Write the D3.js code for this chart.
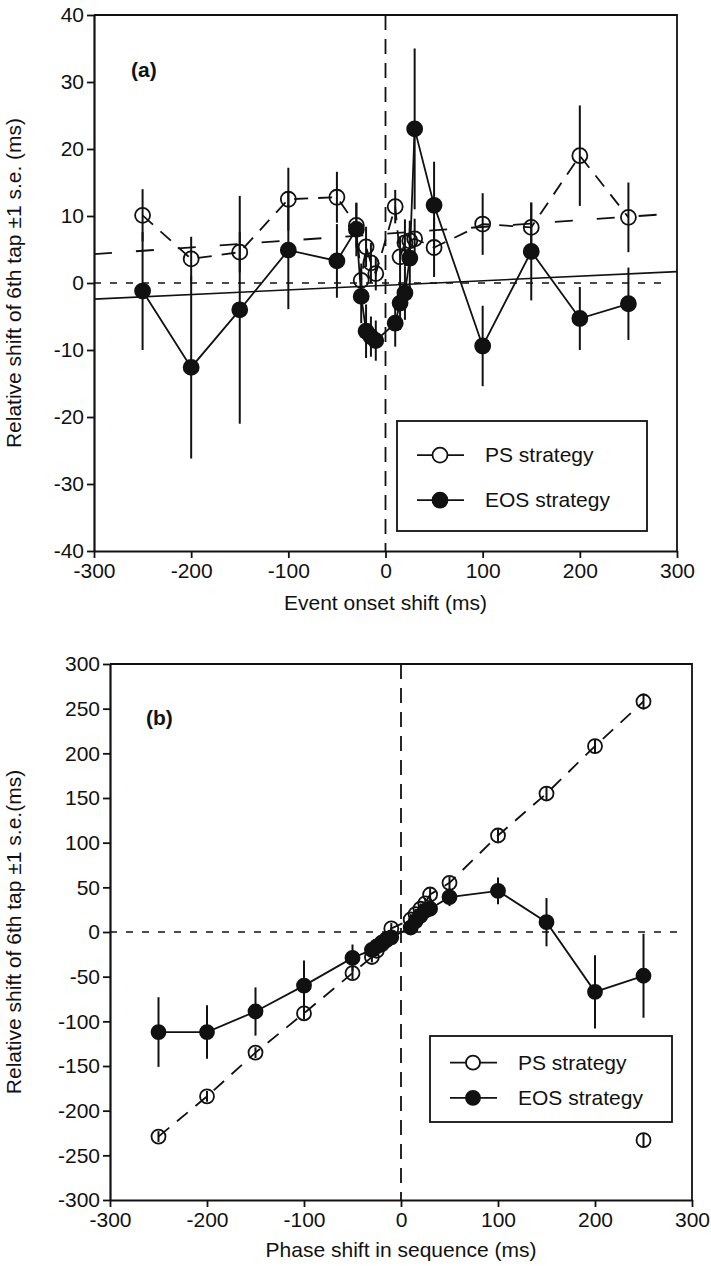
<!DOCTYPE html>
<html>
<head>
<meta charset="utf-8">
<script src="https://cdn.jsdelivr.net/npm/d3@7/dist/d3.min.js"></script>
<style>
  html, body { margin: 0; padding: 0; background: #fff; }
  svg text { font-family: "Liberation Sans", Arial, Helvetica, sans-serif; fill: #111; }
</style>
</head>
<body>
<svg id="chart" width="711" height="1266"></svg>
<script>
// Shift magnitudes (ms) shared by both panels
const shifts = [-250, -200, -150, -100, -50, -30, -25, -20, -15, -10, 10, 15, 20, 25, 30, 50, 100, 150, 200, 250];

// Panel (a): relative shift of the 6th tap vs event onset shift
const psA     = [10.1, 3.6, 4.6, 12.5, 12.8, 8.6, 0.4, 5.4, 3.0, 1.4, 11.4, 3.9, 6.0, 6.3, 6.6, 5.3, 8.8, 8.3, 19.0, 9.8];
const psAErr  = [3.9, 3.3, 3.0, 4.7, 3.8, 3.3, 2.5, 3.0, 3.0, 2.5, 2.5, 3.0, 3.5, 3.0, 3.0, 4.4, 4.6, 3.7, 7.5, 5.2];
const eosA    = [-1.2, -12.6, -4.0, 4.9, 3.3, 8.0, -2.0, -7.2, -8.0, -8.6, -6.0, -3.0, -1.5, 3.7, 23.0, 11.6, -9.4, 4.7, -5.3, -3.1];
const eosAErr = [8.8, 13.6, 17.0, 8.8, 5.5, 4.0, 4.0, 4.0, 3.0, 3.0, 3.5, 4.0, 4.0, 4.5, 12.0, 6.5, 6.0, 7.3, 4.7, 5.4];
// Reference lines in panel (a), given at the ends of the x range
const refX    = [-300, 300];
const psRefA  = [4.3, 10.4];
const eosRefA = [-2.4, 1.7];

// Panel (b): relative shift of the 6th tap vs phase shift in sequence
const psB     = [-229, -184, -135, -91, -46, -28, -21, -14, -8, 4, 14, 20, 26, 32, 42, 55, 108, 155, 208, 258];
const psBErr  = [6, 6, 6, 7, 7, 6, 6, 6, 6, 6, 6, 6, 6, 6, 7, 7, 7, 8, 8, 9];
const eosB    = [-112, -112, -89, -60, -29, -20, -16, -12, -9, -6, 5, 12, 18, 24, 26, 39, 46, 11, -67, -49];
const eosBErr = [39, 30, 27, 28, 15, 8, 8, 8, 8, 8, 8, 8, 8, 8, 8, 10, 15, 27, 41, 47];
// Isolated PS point at +250 ms plotted on the negative side
const psWrapX = [250];
const psWrapY = [-233];
const psWrapErr = [8];

const xTicks  = [-300, -200, -100, 0, 100, 200, 300];
const yTicksA = [-40, -30, -20, -10, 0, 10, 20, 30, 40];
const yTicksB = [-300, -250, -200, -150, -100, -50, 0, 50, 100, 150, 200, 250, 300];

const svg = d3.select("#chart");
const FONT = 21;
const plain = d => String(d);

function drawPanel(cfg) {
  const g = svg.append("g");
  const x = d3.scaleLinear().domain([-300, 300]).range([cfg.left, cfg.right]);
  const y = d3.scaleLinear().domain(cfg.yDomain).range([cfg.bottom, cfg.top]);

  // frame (top and right)
  g.append("path")
    .attr("d", `M${cfg.left},${cfg.top}H${cfg.right}V${cfg.bottom}`)
    .attr("fill", "none").attr("stroke", "#111").attr("stroke-width", 1.8);

  // zero reference lines
  g.append("line")
    .attr("x1", x(-300)).attr("x2", x(300) - 12)
    .attr("y1", y(0)).attr("y2", y(0))
    .attr("stroke", "#111").attr("stroke-width", 1.6).attr("stroke-dasharray", "7,9");
  g.append("line")
    .attr("x1", x(0)).attr("x2", x(0))
    .attr("y1", cfg.top).attr("y2", cfg.bottom)
    .attr("stroke", "#111").attr("stroke-width", 1.8).attr("stroke-dasharray", "15,9");

  if (cfg.refs) cfg.refs(g, x, y);

  // axes
  const yAxis = d3.axisLeft(y).tickValues(cfg.yTicks).tickFormat(plain)
    .tickSize(7).tickSizeOuter(0).tickPadding(3);
  const gy = g.append("g").attr("transform", `translate(${cfg.left},0)`).call(yAxis);
  const xAxis = d3.axisBottom(x).tickValues(xTicks).tickFormat(plain)
    .tickSize(7).tickSizeOuter(0).tickPadding(5);
  const gx = g.append("g").attr("transform", `translate(0,${cfg.bottom})`).call(xAxis);
  [gx, gy].forEach(a => {
    a.select(".domain").attr("stroke", "#111").attr("stroke-width", 2.2);
    a.selectAll(".tick line").attr("stroke", "#111").attr("stroke-width", 1.8);
    a.selectAll(".tick text").attr("font-size", FONT).attr("fill", "#111")
      .style("font-family", "'Liberation Sans', Arial, sans-serif");
  });

  // series: error bars, connecting lines, markers
  const series = [
    { vals: cfg.eos, err: cfg.eosErr, filled: true, dash: null },
    { vals: cfg.ps, err: cfg.psErr, filled: false, dash: "14,10" }
  ];
  const line = d3.line().x(d => x(d[0])).y(d => y(d[1]));
  series.forEach(s => {
    const pts = shifts.map((v, i) => [v, s.vals[i], s.err[i]]);
    g.append("g").selectAll("line").data(pts).join("line")
      .attr("x1", d => x(d[0])).attr("x2", d => x(d[0]))
      .attr("y1", d => y(d[1] + d[2])).attr("y2", d => y(d[1] - d[2]))
      .attr("stroke", "#111").attr("stroke-width", 2);
    g.append("path").datum(pts)
      .attr("d", line).attr("fill", "none").attr("stroke", "#111")
      .attr("stroke-width", 1.8)
      .attr("stroke-dasharray", s.dash);
  });
  series.forEach(s => {
    const pts = shifts.map((v, i) => [v, s.vals[i]]);
    g.append("g").selectAll("circle").data(pts).join("circle")
      .attr("cx", d => x(d[0])).attr("cy", d => y(d[1]))
      .attr("r", cfg.r)
      .attr("fill", s.filled ? "#111" : "none")
      .attr("stroke", "#111").attr("stroke-width", 1.8);
  });

  if (cfg.extra) cfg.extra(g, x, y);

  // panel label
  g.append("text").attr("x", cfg.labelPos[0]).attr("y", cfg.labelPos[1])
    .attr("font-size", 21).attr("font-weight", "bold").text(cfg.label);

  // axis titles
  g.append("text")
    .attr("x", (cfg.left + cfg.right) / 2).attr("y", cfg.bottom + cfg.xTitleDy)
    .attr("text-anchor", "middle").attr("font-size", FONT).text(cfg.xTitle);
  g.append("text")
    .attr("transform", `translate(${cfg.yTitleX},${(cfg.top + cfg.bottom) / 2}) rotate(-90)`)
    .attr("text-anchor", "middle").attr("font-size", FONT).text(cfg.yTitle);

  // legend
  const L = cfg.legend;
  const lg = g.append("g");
  lg.append("rect").attr("x", L.x).attr("y", L.y).attr("width", L.w).attr("height", L.h)
    .attr("fill", "#fff").attr("stroke", "#111").attr("stroke-width", 1.8);
  [["PS strategy", false], ["EOS strategy", true]].forEach((item, i) => {
    const cy = L.y + L.h * (i === 0 ? 0.31 : 0.72);
    lg.append("line").attr("x1", L.x + 20).attr("x2", L.x + 67).attr("y1", cy).attr("y2", cy)
      .attr("stroke", "#111").attr("stroke-width", 1.8);
    lg.append("circle").attr("cx", L.x + 43).attr("cy", cy).attr("r", cfg.r)
      .attr("fill", item[1] ? "#111" : "#fff").attr("stroke", "#111").attr("stroke-width", 1.8);
    lg.append("text").attr("x", L.x + 88).attr("y", cy + 7)
      .attr("font-size", FONT).text(item[0]);
  });
}

drawPanel({
  left: 94, right: 677, top: 15, bottom: 551,
  yDomain: [-40, 40], yTicks: yTicksA, r: 7.5,
  ps: psA, psErr: psAErr, eos: eosA, eosErr: eosAErr,
  label: "(a)", labelPos: [131, 77],
  xTitle: "Event onset shift (ms)", xTitleDy: 59,
  yTitle: "Relative shift of 6th tap \u00b11 s.e. (ms)", yTitleX: 21,
  legend: { x: 397, y: 421, w: 250, h: 110 },
  refs: (g, x, y) => {
    g.append("line")
      .attr("x1", x(refX[0])).attr("x2", x(refX[1]))
      .attr("y1", y(psRefA[0])).attr("y2", y(psRefA[1]))
      .attr("stroke", "#111").attr("stroke-width", 1.8).attr("stroke-dasharray", "18,24");
    g.append("line")
      .attr("x1", x(refX[0])).attr("x2", x(refX[1]))
      .attr("y1", y(eosRefA[0])).attr("y2", y(eosRefA[1]))
      .attr("stroke", "#111").attr("stroke-width", 1.6);
  }
});

drawPanel({
  left: 110, right: 692, top: 664, bottom: 1200,
  yDomain: [-300, 300], yTicks: yTicksB, r: 7,
  ps: psB, psErr: psBErr, eos: eosB, eosErr: eosBErr,
  label: "(b)", labelPos: [146, 725],
  xTitle: "Phase shift  in sequence (ms)", xTitleDy: 57,
  yTitle: "Relative shift of 6th tap \u00b11 s.e.(ms)", yTitleX: 21,
  legend: { x: 430, y: 1036, w: 242, h: 86 },
  extra: (g, x, y) => {
    const pts = psWrapX.map((v, i) => [v, psWrapY[i], psWrapErr[i]]);
    g.selectAll(".wrapbar").data(pts).join("line")
      .attr("x1", d => x(d[0])).attr("x2", d => x(d[0]))
      .attr("y1", d => y(d[1] + d[2])).attr("y2", d => y(d[1] - d[2]))
      .attr("stroke", "#111").attr("stroke-width", 2);
    g.selectAll(".wrapdot").data(pts).join("circle")
      .attr("cx", d => x(d[0])).attr("cy", d => y(d[1])).attr("r", 7)
      .attr("fill", "none").attr("stroke", "#111").attr("stroke-width", 1.8);
  }
});
</script>
</body>
</html>
